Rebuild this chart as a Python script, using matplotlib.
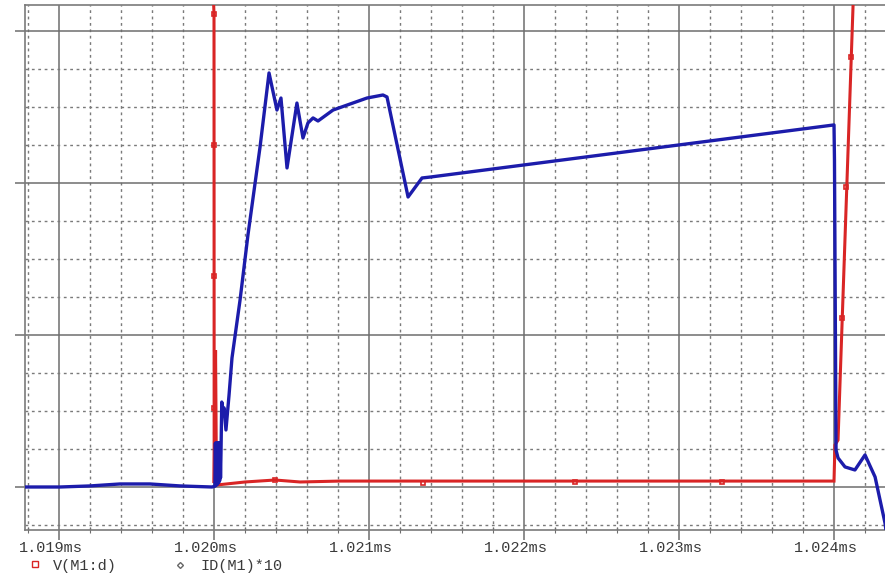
import matplotlib
matplotlib.use("Agg")
import matplotlib.pyplot as plt
from matplotlib.lines import Line2D
from matplotlib.ticker import MultipleLocator, FuncFormatter
from matplotlib.transforms import ScaledTranslation

# ---- trace data (time in microseconds, values in plot units) ----
# ID(M1)*10
id_t = [1018.78, 1019.006, 1019.2, 1019.394, 1019.587, 1019.781, 1019.987,
        1020.006, 1020.009, 1020.012, 1020.015, 1020.018, 1020.021, 1020.024,
        1020.027, 1020.030, 1020.033, 1020.036, 1020.039, 1020.042, 1020.045,
        1020.050, 1020.058, 1020.065, 1020.077, 1020.097, 1020.116, 1020.168,
        1020.219, 1020.297, 1020.355, 1020.406, 1020.432, 1020.471, 1020.535,
        1020.574, 1020.606, 1020.639, 1020.671, 1020.768, 1020.987, 1021.090,
        1021.116, 1021.252, 1021.342, 1021.394, 1024.000, 1024.003, 1024.013,
        1024.026, 1024.071, 1024.135, 1024.200, 1024.265, 1024.329, 1024.361]
id_v = [0.0, 0.0, 0.7, 2.0, 2.0, 0.7, 0.0,
        0.5, 28.9, 1.0, 28.9, 1.5, 28.9, 2.0, 28.9,
        3.0, 28.9, 4.0, 28.9, 6.0, 22.0,
        55.9, 50.7, 52.0, 37.5, 60.5, 84.9, 123.0,
        165.8, 223.7, 272.4, 248.0, 255.9, 209.9, 252.6,
        229.6, 239.5, 242.8, 240.8, 248.0, 255.9, 257.9,
        256.6, 190.8, 203.3, 203.9, 238.2, 215.0, 24.3,
        19.1, 13.2, 11.2, 21.1, 6.6, -23.7, -48.0]

# V(M1:d)
vd_t = [1019.990, 1020.000, 1020.001, 1020.010, 1020.016, 1020.200, 1020.394,
        1020.555, 1020.813, 1022.500, 1024.000, 1024.006, 1024.026, 1024.123,
        1024.135]
vd_v = [340.0, 311.0, 2.6, 90.0, 1.3, 3.3, 4.6,
        3.3, 3.9, 3.9, 3.9, 27.6, 30.9, 317.1,
        371.0]

# plot symbols placed along V(M1:d)
vd_mark_t = [1020.0, 1020.0, 1020.0, 1020.0, 1020.394, 1021.348, 1022.329,
             1023.277, 1024.051, 1024.077, 1024.110]
vd_mark_v = [311.2, 225.0, 138.8, 52.0, 4.6, 2.6, 3.3, 3.3, 111.2, 197.4, 282.9]

x_major = [1019, 1020, 1021, 1022, 1023, 1024]
legend_names = ["V(M1:d)", "ID(M1)*10"]

RED = "#d92525"
BLUE = "#1c1cab"
GRID = "#6e6e6e"
MONO = "Liberation Mono"
FS = 11

W, H, DPI = 885, 577, 100
fig = plt.figure(figsize=(W / DPI, H / DPI), dpi=DPI)
fig.patch.set_facecolor("white")


def fx(px):
    return px / W


def fy(py):
    return 1 - py / H


ax = fig.add_axes([fx(25), fy(530), fx(905) - fx(25), fy(5) - fy(530)])
ax.set_xlim(1018.7806, 1024.458)
ax.set_ylim(-28.29, 317.1)

# grid
ax.xaxis.set_major_locator(MultipleLocator(1.0))
ax.xaxis.set_minor_locator(MultipleLocator(0.2))
ax.yaxis.set_major_locator(MultipleLocator(100))
ax.yaxis.set_minor_locator(MultipleLocator(25))
ax.grid(which="major", color=GRID, lw=1.1, ls="-", zorder=0)
ax.grid(which="minor", color="#7a7a7a", lw=1.0, ls=(0, (2, 2.6)), zorder=0)
ax.set_axisbelow(True)

for side in ("top", "left", "bottom"):
    ax.spines[side].set_color("#7a7a7a")
    ax.spines[side].set_linewidth(1.2)
ax.spines["right"].set_visible(False)

ax.tick_params(axis="x", which="major", direction="out", length=7.5, width=1.1,
               color=GRID, pad=0.5, labelsize=FS, labelcolor="#3a3a3a")
ax.tick_params(axis="x", which="minor", direction="inout", length=4, width=0.8,
               color=GRID)
ax.tick_params(axis="y", which="major", direction="out", length=7.5, width=1.1,
               color=GRID, labelleft=False)
ax.tick_params(axis="y", which="minor", length=0)
ax.xaxis.set_major_formatter(FuncFormatter(lambda t, p: f"{t / 1000:.3f}ms"))
ax.set_xticks(x_major)
for lab in ax.get_xticklabels():
    lab.set_fontfamily(MONO)
    lab.set_transform(lab.get_transform() + ScaledTranslation(-8 / DPI, 0, fig.dpi_scale_trans))

# traces
ax.plot(vd_t, vd_v, color=RED, lw=2.2, zorder=3, solid_joinstyle="miter")
ax.plot(vd_mark_t, vd_mark_v, ls="none", marker="s", ms=3.5, mfc="none",
        mec=RED, mew=1.2, zorder=4)
ax.plot(id_t, id_v, color=BLUE, lw=2.4, zorder=5, solid_joinstyle="round")

# legend row under the axis
fig.add_artist(Line2D([fx(35)], [fy(564)], marker="s", ms=4, mfc="none",
                      mec=RED, mew=1.0, ls="none", transform=fig.transFigure))
fig.text(fx(53), fy(566), legend_names[0], fontfamily=MONO, fontsize=FS,
         color="#3a3a3a", va="center", ha="left")
fig.add_artist(Line2D([fx(180)], [fy(565)], marker="D", ms=3, mfc="none",
                      mec="#666666", mew=1.0, ls="none", transform=fig.transFigure))
fig.text(fx(200), fy(566), legend_names[1], fontfamily=MONO, fontsize=FS,
         color="#3a3a3a", va="center", ha="left")

fig.savefig("out.png", dpi=DPI, facecolor="white")
